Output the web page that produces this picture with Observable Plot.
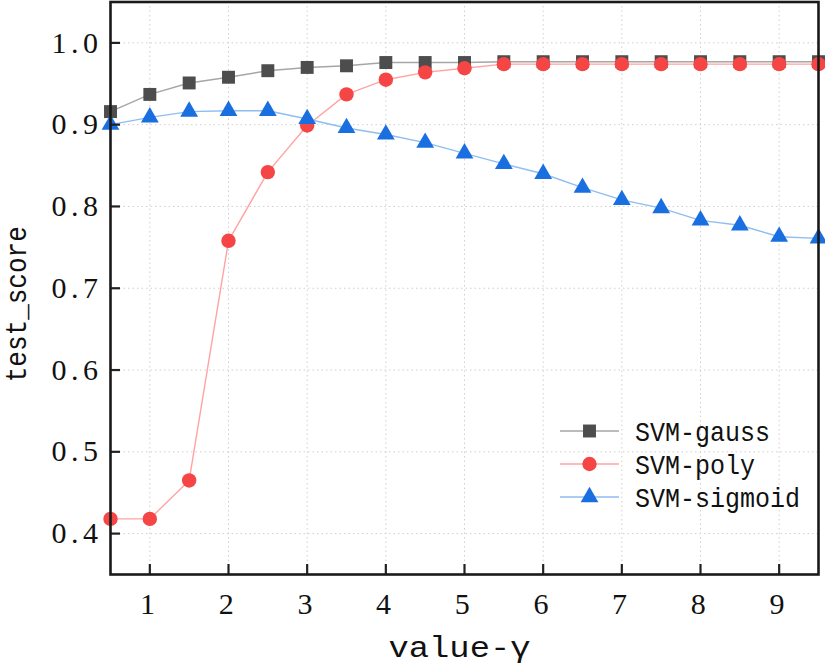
<!DOCTYPE html>
<html>
<head>
<meta charset="utf-8">
<script src="https://cdn.jsdelivr.net/npm/d3@7"></script>
<script src="https://cdn.jsdelivr.net/npm/@observablehq/plot@0.6"></script>
<style>
  html, body { margin: 0; padding: 0; background: #fff; }
  #chart svg { display: block; }
</style>
</head>
<body>
<div id="chart"></div>
<script>
// ---- data ----
const gammaValues = [0.5, 1, 1.5, 2, 2.5, 3, 3.5, 4, 4.5, 5, 5.5, 6, 6.5, 7, 7.5, 8, 8.5, 9, 9.5];
const gaussScores = [0.916, 0.937, 0.951, 0.958, 0.966, 0.970, 0.972, 0.976, 0.976, 0.976, 0.977, 0.977, 0.977, 0.977, 0.977, 0.977, 0.977, 0.977, 0.977];
const polyScores = [0.418, 0.418, 0.465, 0.758, 0.842, 0.899, 0.937, 0.955, 0.964, 0.969, 0.974, 0.974, 0.974, 0.974, 0.974, 0.974, 0.974, 0.974, 0.974];
const sigmoidScores = [0.900, 0.909, 0.916, 0.917, 0.917, 0.907, 0.896, 0.888, 0.878, 0.865, 0.852, 0.840, 0.823, 0.808, 0.798, 0.783, 0.777, 0.763, 0.761];
const seriesNames = ["SVM-gauss", "SVM-poly", "SVM-sigmoid"];
const xTicks = [1, 2, 3, 4, 5, 6, 7, 8, 9];
const yTicks = [0.4, 0.5, 0.6, 0.7, 0.8, 0.9, 1.0];
const xLabel = "value-\u03b3";
const yLabel = "test_score";

// ---- styles ----
const styles = {
  "SVM-gauss":   {marker: "#4d4d4d", line: "#a6a6a6", symbol: "square", r: 7.3},
  "SVM-poly":    {marker: "#f54545", line: "#ffa3a3", symbol: "circle", r: 7.2},
  "SVM-sigmoid": {marker: "#1a6fe0", line: "#8fbdf2", symbol: "triangle", r: 6.6}
};
const seriesValues = [gaussScores, polyScores, sigmoidScores];
const rows = [];
seriesNames.forEach((name, i) => {
  gammaValues.forEach((g, j) => rows.push({series: name, gamma: g, score: seriesValues[i][j]}));
});

const W = 825, H = 668;
const mL = 110, mR = 7, mT = 1.5, mB = 94;
const innerW = W - mL - mR, innerH = H - mT - mB;
const mono = "'Liberation Mono', 'DejaVu Sans Mono', monospace";
const serif = "'Liberation Serif', 'DejaVu Serif', serif";

const marks = [
  Plot.gridX(xTicks, {stroke: "#cfcfcf", strokeOpacity: 1, strokeDasharray: "1.5,3", strokeWidth: 1}),
  Plot.gridY(yTicks, {stroke: "#cfcfcf", strokeOpacity: 1, strokeDasharray: "1.5,3", strokeWidth: 1}),
];
seriesNames.forEach(name => {
  const s = styles[name];
  const d = rows.filter(r => r.series === name);
  marks.push(Plot.line(d, {x: "gamma", y: "score", stroke: s.line, strokeWidth: 1.4}));
});
seriesNames.forEach(name => {
  const s = styles[name];
  const d = rows.filter(r => r.series === name);
  marks.push(Plot.dot(d, {x: "gamma", y: "score", symbol: () => s.symbol, fill: s.marker, stroke: "none", r: s.r}));
});
marks.push(
  // inward ticks
  Plot.tickX(xTicks, {x: d => d, stroke: "#222", strokeWidth: 2.2, insetTop: innerH - 10}),
  Plot.tickY(yTicks, {y: d => d, stroke: "#222", strokeWidth: 2.2, insetRight: innerW - 10}),
  // tick labels
  Plot.axisX(xTicks, {tickSize: 0, tickPadding: 18, fill: "#111", label: null}),
  Plot.axisY(yTicks, {tickSize: 0, tickPadding: 8, fill: "#111", label: null, tickFormat: d3.format(".1f")}),
  // frame
  Plot.frame({stroke: "#1a1a1a", strokeWidth: 2.6}),
  // axis titles
  Plot.text([xLabel], {text: d => d, frameAnchor: "bottom", dy: 73, dx: -5, fontSize: 29, fontFamily: mono, fill: "#111", lineAnchor: "middle", textAnchor: "middle"}),
  Plot.text([yLabel], {text: d => d, frameAnchor: "left", dx: -94, dy: 16, rotate: -90, fontSize: 30, fontFamily: mono, fill: "#111", lineAnchor: "middle", textAnchor: "middle"})
);

const chart = Plot.plot({
  width: W, height: H,
  marginLeft: mL, marginRight: mR, marginTop: mT, marginBottom: mB,
  x: {domain: [0.5, 9.5], axis: null},
  y: {domain: [0.35, 1.05], axis: null},
  style: {background: "#fff", overflow: "visible"},
  marks
});
document.getElementById("chart").appendChild(chart);

const svg = d3.select(chart);
// tick label typography
svg.selectAll('g[aria-label="x-axis tick label"], g[aria-label="y-axis tick label"]')
  .style("font-family", serif)
  .style("font-size", "30px")
  .style("letter-spacing", "4.5px");
// axis title widths
svg.selectAll("text").each(function() {
  const t = d3.select(this).text();
  if (t === xLabel) d3.select(this).attr("textLength", 142).attr("lengthAdjust", "spacingAndGlyphs");
  if (t === yLabel) d3.select(this).attr("textLength", 156).attr("lengthAdjust", "spacingAndGlyphs");
});

// ---- legend (inside bottom-right of plot area) ----
const lg = svg.append("g").attr("class", "legend");
const symGen = {square: d3.symbolSquare, circle: d3.symbolCircle, triangle: d3.symbolTriangle};
seriesNames.forEach((name, i) => {
  const s = styles[name];
  const y = 431 + i * 33;
  lg.append("line").attr("x1", 560).attr("x2", 619).attr("y1", y).attr("y2", y)
    .attr("stroke", s.line).attr("stroke-width", 1.6);
  lg.append("path").attr("transform", `translate(589.5,${y})`)
    .attr("d", d3.symbol(symGen[s.symbol], Math.PI * s.r * s.r)())
    .attr("fill", s.marker);
  lg.append("text").attr("x", 635).attr("y", y).attr("dy", "0.35em")
    .attr("text-anchor", "start")
    .attr("font-family", mono).attr("font-size", 28).attr("fill", "#111")
    .attr("textLength", 15 * name.length).attr("lengthAdjust", "spacingAndGlyphs")
    .text(name);
});
</script>
</body>
</html>
